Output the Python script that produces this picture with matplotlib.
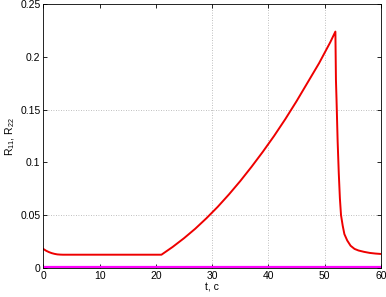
import matplotlib.pyplot as plt

# R11 (red) curve
t_r11 = [0, 0.5, 1, 1.5, 2, 2.5, 3, 3.5, 21,
         23, 25, 27, 29, 31, 33, 35, 37, 39, 41, 43, 45, 47, 49, 51, 51.9,
         52.0, 52.1, 52.3, 52.5, 52.7, 52.9, 53.2, 53.5, 54, 54.6, 55.3,
         56, 57, 58, 59, 60]
r11 = [0.018, 0.0163, 0.0150, 0.0140, 0.0133, 0.0128, 0.0126, 0.0125, 0.0125,
       0.0199, 0.0281, 0.0371, 0.0471, 0.0579, 0.0697, 0.0823, 0.0958, 0.110,
       0.125, 0.141, 0.158, 0.176, 0.194, 0.214, 0.224,
       0.178, 0.160, 0.120, 0.090, 0.066, 0.050, 0.040, 0.032, 0.026, 0.021,
       0.018, 0.0165, 0.0152, 0.0142, 0.0136, 0.0132]

# R22 (magenta) stays at zero
t_r22 = [0, 60]
r22 = [0.0005, 0.0005]

x_ticks = [0, 10, 20, 30, 40, 50, 60]
y_ticks = [0, 0.05, 0.1, 0.15, 0.2, 0.25]
y_ticklabels = ['0', '0.05', '0.1', '0.15', '0.2', '0.25']
x_grid = [30, 40, 50]
y_grid = [0.05, 0.15]

plt.rcParams['font.family'] = ['Liberation Sans', 'DejaVu Sans']
plt.rcParams['mathtext.fontset'] = 'custom'
plt.rcParams['mathtext.rm'] = 'Liberation Sans'
plt.rcParams['mathtext.it'] = 'Liberation Sans'

fig = plt.figure(figsize=(3.86, 2.97), dpi=100)
ax = fig.add_axes([0.112, 0.098, 0.875, 0.888])

for x in x_grid:
    ax.axvline(x, color='#aaaaaa', linestyle=(0, (1, 2)), linewidth=0.6, zorder=0)
for y in y_grid:
    ax.axhline(y, color='#aaaaaa', linestyle=(0, (1, 2)), linewidth=0.6, zorder=0)

ax.plot(t_r22, r22, color='#ff00ff', linewidth=1.6)
ax.plot(t_r11, r11, color='#ee0000', linewidth=1.4)

ax.set_xlim(0, 60)
ax.set_ylim(0, 0.25)
ax.set_xticks(x_ticks)
ax.set_yticks(y_ticks)
ax.set_yticklabels(y_ticklabels)
ax.tick_params(direction='in', length=3, width=0.6, labelsize=7.5,
               top=True, right=True, pad=2)
for s in ax.spines.values():
    s.set_linewidth(0.6)

ax.set_xlabel('t, с', fontsize=7.5, labelpad=1)
ax.set_ylabel('R$_{11}$, R$_{22}$', fontsize=7.5, labelpad=2)

plt.savefig('out.png', dpi=100)
plt.close()
